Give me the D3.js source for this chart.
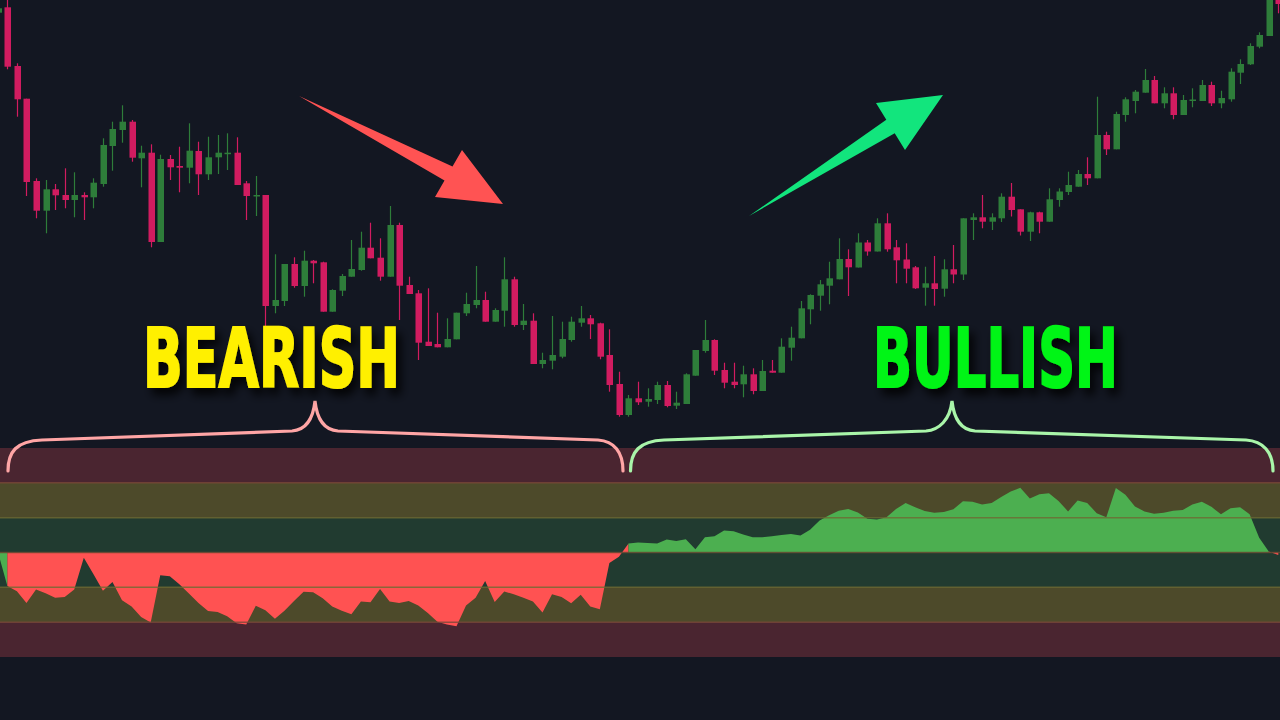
<!DOCTYPE html>
<html><head><meta charset="utf-8">
<script src="https://cdn.jsdelivr.net/npm/d3@7"></script>
<style>html,body{margin:0;padding:0;background:#131722;overflow:hidden}</style>
</head><body><svg id="c" width="1280" height="720"></svg>
<script>
// ---------- DATA ----------
const candleOpen = [407.3,412.7,354,321.3,239,209.3,230.7,225,220,225,222.7,236,274,290,298.3,261.7,267.3,178,261,254,252.3,269,245.7,262.7,266,267.3,236.7,223.7,225,114,119,156,134,159.3,157.7,108.3,129.3,143.3,150,172.3,162.3,143.3,195,135,126.7,78.3,76,72.7,80.7,106.7,115,120,98.3,109.3,140.7,95,99.3,56,59.3,63.3,80,97.3,101.7,96.7,65,36,5,21.7,18.3,20,35,14.3,16,44.3,69,80,50,38.3,35.7,45.7,29,49.3,47.3,72.3,81.7,110.7,124.3,134.3,140.7,161,152.5,177.5,168.5,196.7,172.7,160.5,152.7,132.3,136.7,131.3,150.7,145.5,200,202.7,198.3,201.7,223.3,210.7,188.3,207.7,198.3,220,228,233.3,246,241.7,285,270.7,305,319,327.3,340,316.7,326.7,305,319,319,335,316.7,320.7,347.3,355.7,373.3,384,425];
const candleHigh = [414,421,356.7,321.3,241.7,240,236,251.7,247.7,227.7,241.7,281.7,298.3,314.7,300,274.3,275.7,265.3,265,273.3,296.7,278.3,283.3,285,286.7,282.7,239,244,225,165.7,156,162.7,169.3,160,158.3,130.7,146,180,188.3,197.3,181.7,214,197.3,143.3,130,131.7,107.3,101.7,107.3,127.3,154,128.3,111.7,162.7,143.3,116,106.7,67.3,104,98.3,103.3,114,105,97.3,90.7,48.3,25,38.3,31.7,38.3,39,28.3,46.7,70,100,80.7,57.3,57.3,54.3,51.7,60,60,81.7,93.3,119,125.7,140,158.3,181.7,170.7,186.7,180,201.7,206.7,180,176.7,154,153.3,164,160.7,175,201.7,206.7,225,206.7,226.7,237,210.7,208.3,208.3,231.7,231.7,248.3,250,262.7,323.3,288.3,308.3,322.7,330,351,344,332.7,332.7,325,331.7,340,338.3,329.3,351.7,360.7,376.7,387.7,425,428];
const candleLow = [405,350.7,303.3,224,201.7,186.7,210,211.7,202.7,200,211.7,233.3,249.3,277.3,258.3,232.7,172.7,178,240,227.7,236.7,225,240,246,250,235,200,204,93.3,106.7,114,132.3,123.3,136.7,108.3,108.3,124,143.3,149.3,161.7,139.3,143.3,100,126,60,74,72.7,72.7,80.7,104,111.7,98.3,98.3,93.3,93.3,90,56,51.7,50.7,61.7,78.3,93.3,81,60.7,28.3,3.3,3.3,15,13.3,16,12.7,11,16,44.3,67.3,45,31.7,31.7,22.7,25.7,29,47.3,47.3,59.3,81.7,95.7,109.3,115.7,140.7,124,152.5,164.3,168.5,168.3,136.7,136.7,131,114.3,114.3,123.3,136.7,140,180,191.7,190,198,203.5,184.5,179,186.7,198.3,213.3,225,233.3,235,241.7,265,270.7,298.3,306.7,327.3,316.7,311.7,300.7,305,312.7,319,314,311.7,318.3,336,355,371.7,384,406.7];
const candleClose = [411.7,353.3,320.7,238,209.3,230.7,224.7,220,225,222.7,237.3,275,291,298.3,262.3,267.3,178,261,252.7,252.3,269.3,245.7,262.7,267.3,267.3,235,224,225,114,120,156,134,159.3,156.7,108.3,130,144,151,172.3,161.7,143.3,195,134.3,126,77.3,74,72.7,81,107.3,116,120,98.3,110,140.7,95,99.3,56,60,65,81,98.3,101.7,95.7,63.3,35,5,21.7,17.7,21,35,14,17.3,45.7,70,80,49.3,37.3,35,45.7,29,49,47.3,73.3,82.3,111.7,125,135.7,141.7,161,152.7,177.5,168.5,196.7,170.7,159.7,151.3,131.7,136.7,131,150.7,145.5,201.7,202.7,198.3,202.7,223.3,210,188.3,207.7,198.3,220.7,228.5,235,246,241.7,285,270.7,306,320.7,328.3,340,316.7,326.7,305,320,320.5,335,316.7,322,348.3,356,374,385,423,416];

// oscillator value per bar
const oscValues = [0.3,-9.6,-11.1,-14.5,-10.6,-11.7,-13.0,-12.8,-10.6,-1.5,-6.2,-11.0,-8.5,-13.7,-15.5,-18.5,-20.1,-6.5,-6.8,-9.1,-11.8,-14.5,-16.8,-17.1,-18.3,-20.3,-20.7,-15.3,-16.6,-19.0,-16.7,-13.9,-11.3,-11.4,-13.1,-15.5,-16.7,-17.7,-14.1,-14.3,-10.5,-14.1,-14.5,-13.9,-15.2,-17.4,-19.9,-20.7,-21.2,-15.2,-13.0,-8.2,-14.2,-11.2,-12.0,-13.0,-14.1,-17.2,-12.0,-12.8,-14.6,-12.1,-15.5,-16.3,-3.0,-1.2,2.6,2.9,2.7,2.6,3.7,3.3,3.8,0.9,4.4,4.7,6.3,6.1,5.2,4.4,4.4,4.7,5.0,5.3,4.9,6.5,9.2,10.7,12.0,12.5,11.5,9.7,9.5,10.1,12.5,14.2,13.0,11.9,11.4,11.6,12.4,14.7,14.6,13.8,14.2,15.9,17.5,18.6,15.5,16.7,17.0,14.8,11.8,14.9,14.2,11.3,10.1,18.5,16.6,13.2,11.8,11.1,11.4,12.0,12.2,13.8,14.6,13.1,11.0,12.7,13.0,11.0,4.2,0.3,-0.7];
// regime changes: [bar index where regime starts, regime]
const oscRegimes = [[0,"bull"],[1,"bear"],[66,"bull"],[133,"bear"]];
const bandLevels = [30,20,10,0,-10,-20,-30];
const bandKinds = ["extreme","strong","neutral","neutral","strong","extreme"];
const labelTexts = ["BEARISH","BULLISH"];

// ---------- DRAW ----------
const W = 1280, H = 720;
const svg = d3.select("#c");
svg.append("rect").attr("width",W).attr("height",H).attr("fill","#131722");

const n = candleOpen.length;
const x = d3.scaleLinear().domain([0, n-1]).range([-2.2, 1278.3]);
const y = d3.scaleLinear().domain([0, 420]).range([420, 0]);
const yo = d3.scaleLinear().domain([-30, 30]).range([657, 448]);

const defs = svg.append("defs");
const f = defs.append("filter").attr("id","shadow").attr("x","-20%").attr("y","-30%").attr("width","140%").attr("height","170%");
f.append("feDropShadow").attr("dx",5).attr("dy",7).attr("stdDeviation",5).attr("flood-color","#000").attr("flood-opacity",0.85);

// oscillator bands
const bandColor = {extreme:"#4a2530", strong:"#4d4a2a", neutral:"#213b30"};
const bands = d3.range(bandLevels.length-1).map(i => ({hi:bandLevels[i], lo:bandLevels[i+1], kind:bandKinds[i]}));
svg.append("g").selectAll("rect").data(bands).join("rect")
  .attr("x",0).attr("width",W)
  .attr("y",d=>yo(d.hi)).attr("height",d=>yo(d.lo)-yo(d.hi))
  .attr("fill",d=>bandColor[d.kind]);

// oscillator areas by regime
const runs = oscRegimes.map((r,i)=>({start:r[0], end:(i<oscRegimes.length-1?oscRegimes[i+1][0]:n-1), kind:r[1]}));
const area = d3.area().x(d=>x(d.i)).y0(yo(0)).y1(d=>yo(d.v));
const pts = oscValues.map((v,i)=>({i,v}));
svg.append("g").selectAll("path").data(runs).join("path")
  .attr("d",r=>area(pts.slice(r.start, Math.min(r.end+1, n))))
  .attr("fill",r=>r.kind==="bull"?"#4caf50":"#ff5252");

// band lines
const lineColor = {30:"none",20:"#7a4838",10:"#6e6a33",0:"#6b4a32",[-10]:"#6e6a33",[-20]:"#7a4838",[-30]:"none"};
svg.append("g").selectAll("line").data(bandLevels.filter(l=>Math.abs(l)<30)).join("line")
  .attr("x1",0).attr("x2",W).attr("y1",d=>yo(d)).attr("y2",d=>yo(d))
  .attr("stroke",d=>lineColor[d]).attr("stroke-width",1.5).attr("stroke-opacity",0.8);

// candles
const up = "#2e7d3a", down = "#d11c60";
const cg = svg.append("g");
const idx = d3.range(n);
cg.selectAll("line").data(idx).join("line")
  .attr("x1",i=>Math.round(x(i))+0.5).attr("x2",i=>Math.round(x(i))+0.5)
  .attr("y1",i=>y(candleHigh[i])).attr("y2",i=>y(candleLow[i]))
  .attr("stroke",i=>candleClose[i]>=candleOpen[i]?up:down).attr("stroke-width",1.2);
cg.selectAll("rect").data(idx).join("rect")
  .attr("x",i=>Math.round(x(i))-2.5).attr("width",6.5)
  .attr("y",i=>y(Math.max(candleOpen[i],candleClose[i])))
  .attr("height",i=>Math.max(1.5, Math.abs(y(candleOpen[i])-y(candleClose[i]))))
  .attr("fill",i=>candleClose[i]>=candleOpen[i]?up:down);

// arrows
svg.append("path").attr("d","M299,96 L452.5,166.6 L462,150 L503,204 L435,197 L444.5,180.4 Z").attr("fill","#ff5353");
svg.append("path").attr("d","M749,216 L886.3,119.7 L876,103 L943,95 L905,150 L894.7,133.3 Z").attr("fill","#12e57d");

// braces
const braces = [
  {d:"M8,471 C8,452 16,441 42,440 L292,431 C305,430 313,420 315,401 C317,420 325,430 338,431 L598,440 C614,441 623,452 623,471", c:"#ffa5a5"},
  {d:"M630.5,471 C630.5,452 639,441 664,440 L926,431 C939,430 950,420 952,401 C954,420 962,430 975,431 L1246,440 C1263,441 1273,452 1273,471", c:"#a9f5a9"}
];
svg.append("g").selectAll("path").data(braces).join("path")
  .attr("d",d=>d.d).attr("fill","none").attr("stroke",d=>d.c).attr("stroke-width",3.2).attr("stroke-linecap","round");

// labels
const labels = [
  {t:labelTexts[0], x:143, w:257, c:"#fff000"},
  {t:labelTexts[1], x:873, w:245, c:"#00f514"}
];
svg.append("g").selectAll("text").data(labels).join("text")
  .attr("x",d=>d.x).attr("y",387)
  .attr("textLength",d=>d.w).attr("lengthAdjust","spacingAndGlyphs")
  .attr("font-family","'DejaVu Sans', sans-serif").attr("font-weight","bold")
  .attr("font-size",82)
  .attr("fill",d=>d.c).attr("stroke",d=>d.c).attr("stroke-width",2)
  .attr("filter","url(#shadow)")
  .text(d=>d.t);
</script></body></html>
